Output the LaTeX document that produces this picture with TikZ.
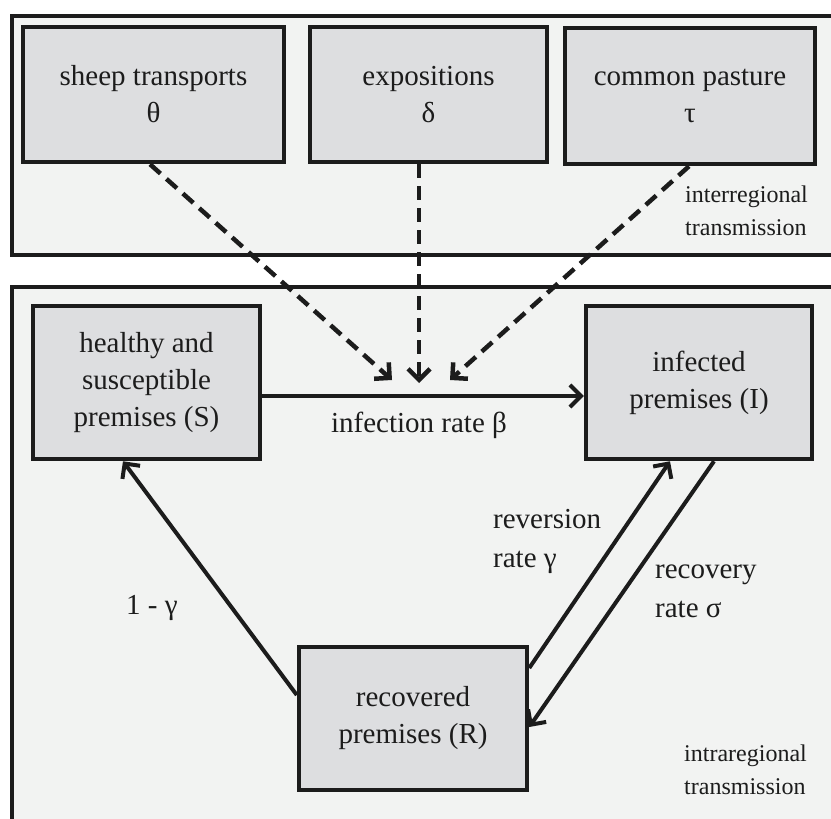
\documentclass[tikz,border=0pt]{standalone}
\usepackage{fontspec}
\setmainfont{Liberation Serif}
\usetikzlibrary{arrows.meta,calc}
\definecolor{panelfill}{HTML}{F2F3F2}
\definecolor{boxfill}{HTML}{DDDEE0}
\definecolor{ink}{HTML}{1C1C1C}
\tikzset{
  panel/.style={draw=ink, fill=panelfill, line width=4pt},
  box/.style={draw=ink, fill=boxfill, line width=4.5pt, align=center, inner sep=0pt,
    text=ink, font=\fontsize{29}{37}\selectfont},
  lab/.style={align=left, inner sep=0pt, text=ink, font=\fontsize{29}{39}\selectfont},
  small/.style={align=left, inner sep=0pt, text=ink, font=\fontsize{24}{33}\selectfont},
  flow/.style={draw=ink, line width=4pt, -{Straight Barb[length=11pt,width=22pt,line width=4pt]}},
  inter/.style={draw=ink, line width=4.5pt, dash pattern=on 14pt off 8pt,
    -{Straight Barb[length=11pt,width=22pt,line width=4.5pt]}}
}
\begin{document}
\begin{tikzpicture}[x=1pt,y=-1pt]
\clip (0,0) rectangle (831,819);
\fill[white] (0,0) rectangle (831,819);
% panels
\draw[panel] (12,16) rectangle (850,255);
\draw[panel] (12,287) rectangle (850,840);
% top boxes
\node[box, minimum width=261pt, minimum height=135pt] (sheep) at (153.5,94.5) {sheep transports\\θ};
\node[box, minimum width=237pt, minimum height=135pt] (expo) at (428.5,94.5) {expositions\\δ};
\node[box, minimum width=250pt, minimum height=136pt] (past) at (690,96) {common pasture\\τ};
% SIR boxes
\node[box, minimum width=227pt, minimum height=153pt] (S) at (146.5,382.5) {healthy and\\susceptible\\premises (S)};
\node[box, minimum width=226pt, minimum height=153pt] (I) at (699,382.5) {infected\\premises (I)};
\node[box, minimum width=228pt, minimum height=143pt] (R) at (413,718.5) {recovered\\premises (R)};
% free ends
\coordinate (hy) at (0,396);
\coordinate (tl) at (392,380);
\coordinate (tm) at (419,383);
\coordinate (tr) at (450,380);
% interregional arrows
\draw[inter] ([xshift=-3.5pt]sheep.south) -- (tl);
\draw[inter] ([xshift=-9.5pt]expo.south) -- (tm);
\draw[inter] ([xshift=-1pt]past.south) -- (tr);
% flows
\draw[flow] (S.east |- hy) -- (I.west |- hy);
\draw[flow] ([yshift=23.5pt]R.west) -- ([xshift=-23.5pt]S.south);
\draw[flow] ([yshift=50.5pt]R.east) -- ([xshift=-29pt]I.south);
\draw[flow] ([xshift=15pt]I.south) -- ([yshift=-8.5pt]R.east);
% labels
\node[lab, anchor=base] (beta) at (419,432) {infection rate β};
\node[lab, anchor=west] (rev) at (493,541) {reversion\\rate γ};
\node[lab, anchor=west] (rec) at (655,591) {recovery\\rate σ};
\node[lab, anchor=base west] (omg) at (126,614) {1 - γ};
\node[small, anchor=west] (interlab) at (685,211) {interregional\\transmission};
\node[small, anchor=west] (intralab) at (684,770) {intraregional\\transmission};
\end{tikzpicture}
\end{document}
